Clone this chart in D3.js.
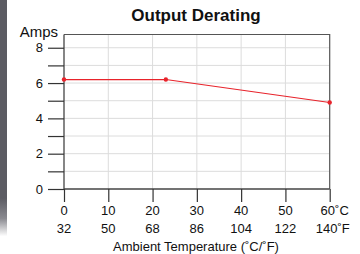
<!DOCTYPE html>
<html><head><meta charset="utf-8">
<script src="https://cdn.jsdelivr.net/npm/d3@7"></script>
<style>body{margin:0;background:#fff}svg{display:block;font-family:"Liberation Sans",Arial,sans-serif}</style>
</head><body><svg id="c" width="360" height="254"></svg>
<script>
const tempC = [0, 23, 60];
const amps = [6.2, 6.2, 4.9];
const xTicksC = [0, 10, 20, 30, 40, 50, 60];
const xLabelsC = ["0", "10", "20", "30", "40", "50", "60˚C"];
const xLabelsF = ["32", "50", "68", "86", "104", "122", "140˚F"];
const yTicks = [0, 1, 2, 3, 4, 5, 6, 7, 8];
const yLabels = [0, 2, 4, 6, 8];

const svg = d3.select("#c");
const L = 64, R = 329.7, T = 34.5, B = 189;
const x = d3.scaleLinear().domain([0, 60]).range([L, R]);
const y = d3.scaleLinear().domain([0, 8.75]).range([B, T]);

// left dark band
const defs = svg.append("defs");
const g0 = defs.append("linearGradient").attr("id","band").attr("x1",0).attr("x2",0).attr("y1",0).attr("y2",1);
g0.append("stop").attr("offset","0.78").attr("stop-color","#5c5c63");
g0.append("stop").attr("offset","0.86").attr("stop-color","#8a8a90");
g0.append("stop").attr("offset","0.93").attr("stop-color","#ffffff");
svg.append("rect").attr("x",0).attr("y",0).attr("width",7).attr("height",254).attr("fill","url(#band)");

// grid
svg.append("g").selectAll("line").data(yTicks.filter(d=>d>0)).join("line")
  .attr("x1",L).attr("x2",R).attr("y1",d=>y(d)).attr("y2",d=>y(d))
  .attr("stroke","#dcdcdc").attr("stroke-width",1);
svg.append("g").selectAll("line").data(xTicksC.slice(1,-1)).join("line")
  .attr("x1",d=>x(d)).attr("x2",d=>x(d)).attr("y1",T).attr("y2",B)
  .attr("stroke","#dcdcdc").attr("stroke-width",1);

// border top/right
svg.append("path").attr("d",`M${L},${T}H${R}V${B}`).attr("fill","none").attr("stroke","#555").attr("stroke-width",1.2);

// y axis
const ya = svg.append("g").attr("transform",`translate(${L},0)`)
  .call(d3.axisLeft(y).tickValues(yTicks).tickSize(16).tickPadding(5)
    .tickFormat(d=>yLabels.includes(d)?d:""));
ya.select(".domain").attr("d",`M0,${T}V${B}`).attr("stroke","#444").attr("stroke-width",1.3);
ya.selectAll(".tick line").attr("stroke","#333").attr("stroke-width",1.2);
ya.selectAll("text").attr("font-size",13).attr("fill","#111").attr("font-family","Liberation Sans, Arial");

// x axis
const xa = svg.append("g").attr("transform",`translate(0,${B})`)
  .call(d3.axisBottom(x).tickValues(xTicksC).tickSize(13).tickFormat(""));
xa.select(".domain").attr("d",`M${L},0H${R}`).attr("stroke","#444").attr("stroke-width",1.3);
xa.selectAll(".tick line").attr("stroke","#333").attr("stroke-width",1.2);
const lbl = svg.append("g").attr("font-size",13).attr("fill","#111").attr("text-anchor","middle");
lbl.selectAll("text.c").data(xTicksC).join("text").attr("class","c")
  .attr("x",(d,i)=>x(d)+(i===6?5:0)).attr("y",215).text((d,i)=>xLabelsC[i]);
lbl.selectAll("text.f").data(xTicksC).join("text").attr("class","f")
  .attr("x",(d,i)=>x(d)+(i===6?3:0)).attr("y",233).text((d,i)=>xLabelsF[i]);

// line
const line = d3.line().x((d,i)=>x(tempC[i])).y(d=>y(d));
svg.append("path").datum(amps).attr("d",line).attr("fill","none").attr("stroke","#e8232b").attr("stroke-width",1.2);
svg.append("g").selectAll("circle").data(amps).join("circle")
  .attr("cx",(d,i)=>x(tempC[i])).attr("cy",d=>y(d)).attr("r",2.2).attr("fill","#e8232b");

// titles
svg.append("text").attr("x",196).attr("y",20.5).attr("text-anchor","middle")
  .attr("font-size",17).attr("font-weight","bold").attr("fill","#111").text("Output Derating");
svg.append("text").attr("x",58).attr("y",37).attr("text-anchor","end")
  .attr("font-size",15).attr("fill","#111").text("Amps");
svg.append("text").attr("x",196).attr("y",250.5).attr("text-anchor","middle")
  .attr("font-size",13).attr("fill","#111").text("Ambient Temperature (˚C/˚F)");
</script></body></html>
